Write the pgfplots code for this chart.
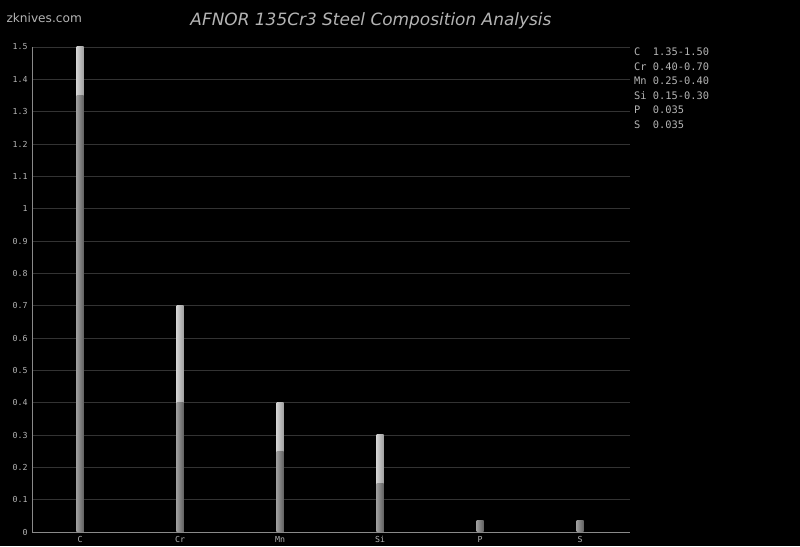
\documentclass[border=0pt]{standalone}
\usepackage{fontspec}
\setmainfont{DejaVu Sans}
\newfontfamily\monofont{DejaVu Sans Mono}
\usepackage{pgfplots}
\pgfplotsset{compat=1.18}

\definecolor{gridc}{HTML}{333333}
\definecolor{axisc}{HTML}{8A8A8A}
\definecolor{txtc}{HTML}{B4B4B4}
\definecolor{lowA}{HTML}{9C9C9C}
\definecolor{lowB}{HTML}{626262}
\definecolor{hiA}{HTML}{D2D2D2}
\definecolor{hiB}{HTML}{A0A0A0}

\pgfplotsset{
  maxbar/.style={draw=none, left color=hiA, right color=hiB},
  minbar/.style={draw=none, left color=lowA, right color=lowB},
}

\begin{document}
\begin{tikzpicture}
\fill[black] (0,0) rectangle (800bp,546bp);
\begin{axis}[
  at={(32bp,14bp)}, anchor=south west,
  scale only axis, width=598bp, height=485bp,
  ybar, bar width=7bp, bar shift=0pt,
  xmin=-0.48, xmax=5.5, ymin=0, ymax=1.5,
  xtick={0,1,2,3,4,5},
  xticklabels={C,Cr,Mn,Si,P,S},
  ytick={0,0.1,0.2,0.3,0.4,0.5,0.6,0.7,0.8,0.9,1,1.1,1.2,1.3,1.4,1.5},
  yticklabel style={/pgf/number format/fixed, /pgf/number format/precision=1},
  /pgf/number format/assume math mode=true,
  ticklabel style={font=\monofont\fontsize{8.3}{8.3}\selectfont, text=txtc},
  major tick length=0pt,
  ymajorgrids, grid style={gridc, line width=0.8pt},
  axis x line*=bottom, axis y line*=left,
  axis line style={axisc, line width=0.8pt, -},
  xticklabel style={yshift=-1bp},
  yticklabel style={xshift=-1bp},
  clip=false,
]
% maximum of each range (light), then minimum on top (dark)
\addplot[maxbar] coordinates {(0,1.50)};
\addplot[maxbar] coordinates {(1,0.70)};
\addplot[maxbar] coordinates {(2,0.40)};
\addplot[maxbar] coordinates {(3,0.30)};
\addplot[minbar] coordinates {(0,1.35)};
\addplot[minbar] coordinates {(1,0.40)};
\addplot[minbar] coordinates {(2,0.25)};
\addplot[minbar] coordinates {(3,0.15)};
\addplot[minbar] coordinates {(4,0.035)};
\addplot[minbar] coordinates {(5,0.035)};
\end{axis}
\node[text=txtc, font=\fontsize{12.2}{12.2}\selectfont, anchor=west] at (3bp,528bp) {zknives.com};
\node[text=txtc, font=\itshape\fontsize{17}{17}\selectfont] at (371bp,525bp) {AFNOR 135Cr3 Steel Composition Analysis};
\begin{scope}[every node/.style={text=txtc, font=\monofont\fontsize{10.4}{10.4}\selectfont, anchor=west, inner sep=0pt}]
\node at (634bp,494bp) {C\ \ 1.35-1.50};
\node at (634bp,479.5bp) {Cr 0.40-0.70};
\node at (634bp,465bp) {Mn 0.25-0.40};
\node at (634bp,450.5bp) {Si 0.15-0.30};
\node at (634bp,436bp) {P\ \ 0.035};
\node at (634bp,421.5bp) {S\ \ 0.035};
\end{scope}
\end{tikzpicture}
\end{document}
